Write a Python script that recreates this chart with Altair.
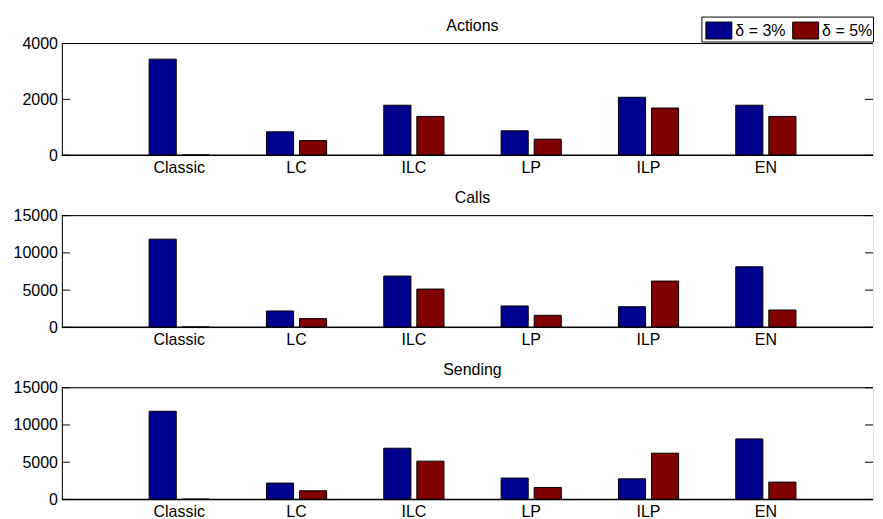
import altair as alt
import pandas as pd

categories = ["Classic", "LC", "ILC", "LP", "ILP", "EN"]
series_names = ["δ = 3%", "δ = 5%"]
panel_titles = ["Actions", "Calls", "Sending"]

actions_d3 = [3440, 840, 1790, 875, 2075, 1790]
actions_d5 = [15, 525, 1390, 575, 1690, 1390]
calls_d3 = [11840, 2200, 6880, 2870, 2770, 8130]
calls_d5 = [60, 1170, 5140, 1610, 6210, 2330]
sending_d3 = [11840, 2200, 6880, 2870, 2770, 8130]
sending_d5 = [60, 1170, 5140, 1610, 6210, 2330]

actions_ticks = [0, 2000, 4000]
calls_ticks = [0, 5000, 10000, 15000]
sending_ticks = [0, 5000, 10000, 15000]

W = 813          # visible plot width
H = 112
FONT = "Liberation Sans"
BLUE = "#00008F"
RED = "#800000"


def yaxis(ticks):
    return alt.Axis(values=ticks, ticks=False, domainColor="black",
                    domainWidth=1, labelFontSize=16, labelColor="black",
                    labelFont=FONT, labelPadding=4.5, format="d", grid=False,
                    title=None)


def panel(title, d3, d5, ticks, show_legend):
    df = pd.DataFrame({
        "category": categories * 2,
        "series": [series_names[0]] * len(categories) + [series_names[1]] * len(categories),
        "value": d3 + d5,
    })
    yscale = alt.Scale(domain=[0, ticks[-1]], nice=False, zero=True)
    if show_legend:
        legend = alt.Legend(
            title=None, orient="none", legendX=641, legendY=-27,
            direction="horizontal", strokeColor="black", fillColor="white",
            padding=0, symbolType="M-0.692,-0.654H1.308V0.654H-0.692Z", symbolSize=676,
            symbolStrokeColor="black", symbolStrokeWidth=1, symbolOpacity=1,
            labelFont=FONT, labelFontSize=16, labelColor="black",
            labelOffset=7, columnPadding=2,
        )
    else:
        legend = None
    bars = alt.Chart(df).mark_bar(stroke="black", strokeWidth=1, opacity=1).encode(
        x=alt.X("category:N", sort=categories, title=None,
                scale=alt.Scale(paddingInner=0, paddingOuter=0.4567, align=0.5475),
                axis=alt.Axis(labelAngle=0, ticks=False, domain=False,
                              labelFontSize=16, labelColor="black",
                              labelFont=FONT, labelPadding=4.5)),
        xOffset=alt.XOffset("series:N", sort=series_names,
                            scale=alt.Scale(paddingInner=0.18, paddingOuter=0.864)),
        y=alt.Y("value:Q", scale=yscale, title=None, axis=yaxis(ticks)),
        color=alt.Color("series:N", sort=series_names,
                        scale=alt.Scale(domain=series_names, range=[BLUE, RED]),
                        legend=legend),
    )
    tdf = pd.DataFrame({"value": ticks})
    left = alt.Chart(tdf).mark_rule(color="black", strokeWidth=1).encode(
        y=alt.Y("value:Q", scale=yscale, axis=yaxis(ticks)), x=alt.value(0), x2=alt.value(8))
    right = alt.Chart(tdf).mark_rule(color="black", strokeWidth=1).encode(
        y=alt.Y("value:Q", scale=yscale, axis=yaxis(ticks)), x=alt.value(W - 8), x2=alt.value(W))
    top = alt.Chart(pd.DataFrame({"value": [ticks[-1]]})).mark_rule(color="black", strokeWidth=1).encode(
        y=alt.Y("value:Q", scale=yscale, axis=yaxis(ticks)), x=alt.value(0), x2=alt.value(W))
    bottom = alt.Chart(pd.DataFrame({"value": [ticks[0]]})).mark_rule(color="black", strokeWidth=1.5).encode(
        y=alt.Y("value:Q", scale=yscale, axis=yaxis(ticks)), x=alt.value(0), x2=alt.value(W))
    ttl = alt.Chart(pd.DataFrame({"t": [title]})).mark_text(
        font=FONT, fontSize=16, color="black", align="center", baseline="alphabetic"
    ).encode(text="t:N", x=alt.value(411.5), y=alt.value(-13))
    return alt.layer(bars, left, right, top, bottom, ttl).properties(width=W, height=H)


chart = alt.vconcat(
    panel(panel_titles[0], actions_d3, actions_d5, actions_ticks, True),
    panel(panel_titles[1], calls_d3, calls_d5, calls_ticks, False),
    panel(panel_titles[2], sending_d3, sending_d5, sending_ticks, False),
    spacing=12.5,
).resolve_scale(color="independent").resolve_legend(color="independent").properties(
    padding={"left": 4, "top": 7, "right": 0, "bottom": 0}
).configure_view(stroke=None).configure(background="white")

chart.save("out.html", embed_options={"renderer": "svg", "actions": False})
